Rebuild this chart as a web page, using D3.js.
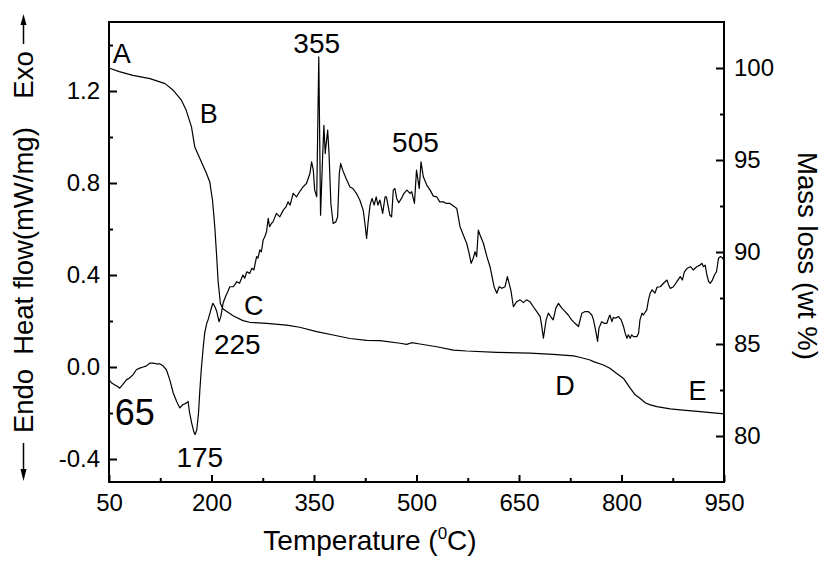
<!DOCTYPE html>
<html>
<head>
<meta charset="utf-8">
<script src="https://cdn.jsdelivr.net/npm/d3@7"></script>
<style>
    body { margin: 0; background: #fff; }
    text { font-family: "Liberation Sans", Arial, sans-serif; fill: #000; }
</style>
</head>
<body>
<div id="chart"></div>
<script>

    // DSC heat flow (mW/mg): [temperature, value]
    var dscCurve = [
        [50, -0.056], [54, -0.07], [58, -0.077], [62.7, -0.085], [65.7, -0.092], [70, -0.077],
        [75.5, -0.056], [80, -0.048], [85, -0.034], [90, -0.012], [95, -0.005], [100, 0.0],
        [105, 0.005], [110, 0.017], [114.5, 0.017], [119, 0.014], [124, 0.014], [129, 0.005],
        [134, -0.012], [139, -0.056], [144, -0.113], [149, -0.15], [153.6, -0.178], [158, -0.164],
        [163, -0.157], [165.7, -0.15], [168, -0.2], [171, -0.244], [174, -0.28], [176, -0.294],
        [178.5, -0.273], [181, -0.2], [183, -0.099], [185, -0.012], [188, 0.089], [190, 0.147],
        [193, 0.19], [195, 0.205], [199, 0.248], [202, 0.277], [205, 0.262], [207.7, 0.241],
        [211, 0.197], [213.6, 0.219], [217, 0.278], [221, 0.31], [224, 0.328], [226.8, 0.349],
        [231.6, 0.349], [234, 0.357], [237, 0.371], [241, 0.364], [246, 0.4], [248.6, 0.386],
        [251.7, 0.414], [256, 0.407], [259, 0.429], [262, 0.422], [266, 0.48], [268, 0.473],
        [270.7, 0.509], [273, 0.501], [275.6, 0.552], [278, 0.566], [280.5, 0.588], [283, 0.646],
        [285, 0.61], [288, 0.625], [290, 0.631], [295, 0.668], [300, 0.653], [305, 0.682],
        [309, 0.696], [312, 0.718], [315, 0.704], [319.5, 0.755], [324.5, 0.74], [329, 0.762],
        [334, 0.783], [339, 0.798], [344, 0.841], [346.5, 0.892], [349, 0.856], [351, 0.769],
        [354, 0.74], [357, 1.348], [359.6, 0.66], [362.6, 0.914], [364.5, 1.051], [366.4, 0.928],
        [370, 1.03], [372, 0.928], [374.7, 0.711], [378, 0.624], [382, 0.631], [384.6, 0.653],
        [387, 0.841], [389, 0.885], [392, 0.856], [397, 0.82], [402.6, 0.783], [407, 0.776],
        [412, 0.755], [417, 0.726], [422, 0.682], [424.5, 0.624], [427, 0.559], [429, 0.624],
        [432, 0.704], [435, 0.733], [438, 0.704], [441, 0.74], [443.6, 0.704], [446.5, 0.726],
        [450.5, 0.668], [454, 0.74], [456, 0.74], [461, 0.66], [463.6, 0.653], [466, 0.769],
        [468.5, 0.776], [471, 0.733], [474, 0.714], [478, 0.733], [481.7, 0.755], [486, 0.769],
        [490.5, 0.755], [493, 0.762], [497, 0.711], [500, 0.856], [504, 0.776], [506.6, 0.892],
        [510, 0.827], [515, 0.791], [520, 0.769], [524.6, 0.743], [529.6, 0.74], [534, 0.718],
        [539, 0.718], [544, 0.711], [549, 0.711], [554, 0.7], [559, 0.689], [563.7, 0.61],
        [568.5, 0.574], [573.5, 0.537], [577, 0.494], [580, 0.451], [583, 0.473], [585.7, 0.501],
        [588, 0.48], [590.5, 0.595], [593, 0.574], [598, 0.537], [603, 0.48], [607.6, 0.436],
        [610.6, 0.393], [613.5, 0.349], [617.5, 0.321], [621, 0.349], [625, 0.342], [629.6, 0.349],
        [633, 0.393], [635.5, 0.364], [638, 0.335], [641.8, 0.262], [646.7, 0.284], [651.6, 0.292],
        [656.4, 0.28], [661, 0.292], [666, 0.284], [671, 0.262], [676, 0.241], [681, 0.219],
        [683, 0.183], [685.7, 0.125], [689.7, 0.205], [693, 0.234], [698, 0.212], [700, 0.205],
        [704, 0.256], [707.7, 0.277], [712.7, 0.256], [717.5, 0.241], [722, 0.226], [727, 0.205],
        [732, 0.19], [737, 0.176], [742, 0.234], [746.8, 0.241], [751.6, 0.241], [756.6, 0.226],
        [759, 0.205], [762.5, 0.154], [765, 0.111], [767, 0.169], [771, 0.197], [774.6, 0.19],
        [778.6, 0.19], [781, 0.212], [783, 0.226], [786, 0.197], [788, 0.216], [790.7, 0.212],
        [795.6, 0.219], [799.5, 0.205], [803, 0.176], [805.4, 0.147], [808, 0.125], [810, 0.14],
        [812.7, 0.125], [815, 0.14], [817.5, 0.132], [822.5, 0.132], [825, 0.147], [827, 0.205],
        [830, 0.234], [832, 0.226], [837, 0.248], [839.5, 0.292], [842, 0.321], [844.5, 0.335],
        [847, 0.328], [849, 0.321], [852, 0.347], [856.7, 0.349], [861.5, 0.364], [866.5, 0.378],
        [869, 0.357], [871.3, 0.342], [876, 0.349], [881, 0.371], [886, 0.393], [889, 0.378],
        [892, 0.414], [896, 0.429], [901, 0.436], [905, 0.422], [910, 0.436], [915, 0.443],
        [917.7, 0.451], [920, 0.436], [922.5, 0.443], [925, 0.4], [927.6, 0.371], [930, 0.364],
        [933, 0.378], [936, 0.4], [939, 0.414], [942, 0.473], [944.5, 0.48], [947, 0.477],
        [950, 0.465]];

    // TG mass (wt %): [temperature, value]
    var tgCurve = [
        [50, 100.0], [65, 99.8], [85, 99.6], [110, 99.42], [132, 99.15], [144, 98.79],
        [156, 98.25], [163, 97.7], [170.7, 96.8], [175.5, 95.71], [183, 95.08], [192.7, 94.27],
        [197.5, 93.8], [201.5, 92.8], [204.8, 91.37], [207.3, 89.92], [209.7, 88.4], [213, 87.2],
        [217, 86.9], [231.6, 86.54], [246, 86.27], [256, 86.18], [280.5, 86.12], [310, 86.03],
        [329, 85.91], [354, 85.67], [378, 85.49], [402.6, 85.3], [427, 85.2], [446.5, 85.18],
        [476, 85.04], [485.6, 84.98], [493, 85.07], [505, 85.0], [529.6, 84.85], [554, 84.67],
        [573.5, 84.62], [617.5, 84.55], [666, 84.5], [700, 84.44], [729.7, 84.35], [739, 84.28],
        [754, 84.13], [759, 84.04], [773.6, 83.86], [783, 83.68], [793, 83.4], [803, 83.13],
        [812.7, 82.6], [820, 82.24], [827, 82.05], [834.7, 81.81], [842, 81.69], [851.8, 81.6],
        [871.3, 81.47], [886, 81.42], [915, 81.33], [950, 81.2]];

    var xTicks = [50, 200, 350, 500, 650, 800, 950];
    var xMinor = [125, 275, 425, 575, 725, 875];
    var leftTicks = [-0.4, 0, 0.4, 0.8, 1.2];
    var leftLabels = ["-0.4", "0.0", "0.4", "0.8", "1.2"];
    var leftMinor = [-0.2, 0.2, 0.6, 1.0, 1.4];
    var rightTicks = [80, 85, 90, 95, 100];
    var rightMinor = [82.5, 87.5, 92.5, 97.5];

    // annotations, placed in (temperature, heat flow) units
    var notes = [
        {text: "A", t: 55.6, v: 1.32, size: 27, anchor: "start"},
        {text: "B", t: 182.8, v: 1.06, size: 27, anchor: "start"},
        {text: "355", t: 354, v: 1.367, size: 28, anchor: "middle"},
        {text: "505", t: 498.5, v: 0.935, size: 28, anchor: "middle"},
        {text: "C", t: 247.7, v: 0.226, size: 27, anchor: "start"},
        {text: "225", t: 237.8, v: 0.057, size: 28, anchor: "middle"},
        {text: "175", t: 182.9, v: -0.435, size: 28, anchor: "middle"},
        {text: "65", t: 58.3, v: -0.251, size: 36, anchor: "start"},
        {text: "D", t: 703, v: -0.121, size: 27, anchor: "start"},
        {text: "E", t: 898, v: -0.145, size: 27, anchor: "start"}];

    var margin = {top: 22, right: 99, bottom: 79, left: 109},
        width = 823 - margin.left - margin.right,
        height = 561 - margin.top - margin.bottom;

    var svg = d3.select("#chart")
        .append("svg")
        .attr("width", 823)
        .attr("height", 561);

    var g = svg.append("g")
        .attr("transform", "translate(" + margin.left + "," + margin.top + ")");

    var x = d3.scaleLinear().domain([50, 950]).range([0, width]);
    var yL = d3.scaleLinear().domain([-0.5, 1.5]).range([height, 0]);
    var yR = d3.scaleLinear().domain([77.5, 102.5]).range([height, 0]);

    // major and minor ticks, pointing inward
    g.append("g")
        .attr("class", "axis")
        .attr("transform", "translate(0," + height + ")")
        .call(d3.axisBottom(x).tickValues(xTicks).tickSize(-7).tickPadding(12)
            .tickFormat(function (d) { return String(d); }));
    g.append("g")
        .attr("class", "axis")
        .attr("transform", "translate(0," + height + ")")
        .call(d3.axisBottom(x).tickValues(xMinor).tickSize(-4).tickFormat(""));

    g.append("g")
        .attr("class", "axis")
        .call(d3.axisLeft(yL).tickValues(leftTicks).tickSize(-8).tickPadding(9)
            .tickFormat(function (d, i) { return leftLabels[i]; }));
    g.append("g")
        .attr("class", "axis")
        .call(d3.axisLeft(yL).tickValues(leftMinor).tickSize(-4).tickFormat(""));

    g.append("g")
        .attr("class", "axis")
        .attr("transform", "translate(" + width + ",0)")
        .call(d3.axisRight(yR).tickValues(rightTicks).tickSize(-8).tickPadding(10));
    g.append("g")
        .attr("class", "axis")
        .attr("transform", "translate(" + width + ",0)")
        .call(d3.axisRight(yR).tickValues(rightMinor).tickSize(-4).tickFormat(""));

    g.selectAll(".axis .domain").remove();
    g.selectAll(".axis line").attr("stroke", "#000").attr("stroke-width", 2);
    g.selectAll(".axis text")
        .style("font-size", "24px")
        .style("font-family", "'Liberation Sans', Arial, sans-serif")
        .attr("fill", "#000");

    // frame
    g.append("rect")
        .attr("width", width)
        .attr("height", height)
        .attr("fill", "none")
        .attr("stroke", "#000")
        .attr("stroke-width", 2);

    var dscLine = d3.line()
        .x(function (d) { return x(d[0]); })
        .y(function (d) { return yL(d[1]); });

    var tgLine = d3.line()
        .x(function (d) { return x(d[0]); })
        .y(function (d) { return yR(d[1]); });

    g.append("path")
        .datum(dscCurve)
        .attr("d", dscLine)
        .attr("fill", "none")
        .attr("stroke", "#000")
        .attr("stroke-width", 1.2)
        .attr("stroke-linejoin", "round");

    g.append("path")
        .datum(tgCurve)
        .attr("d", tgLine)
        .attr("fill", "none")
        .attr("stroke", "#000")
        .attr("stroke-width", 1.2)
        .attr("stroke-linejoin", "round");

    g.selectAll(".note")
        .data(notes)
        .enter().append("text")
        .attr("class", "note")
        .attr("x", function (d) { return x(d.t); })
        .attr("y", function (d) { return yL(d.v); })
        .attr("text-anchor", function (d) { return d.anchor; })
        .style("font-size", function (d) { return d.size + "px"; })
        .text(function (d) { return d.text; });

    // x title with superscript 0
    var xt = svg.append("text")
        .attr("x", 370)
        .attr("y", 550)
        .attr("text-anchor", "middle")
        .style("font-size", "28px");
    xt.append("tspan").text("Temperature (");
    xt.append("tspan").attr("dy", -11).style("font-size", "17px").text("0");
    xt.append("tspan").attr("dy", 11).text("C)");

    // left title in three pieces plus arrows
    var leftParts = [
        {text: "Endo", y: 401},
        {text: "Heat flow(mW/mg)", y: 241},
        {text: "Exo", y: 75}];
    svg.selectAll(".ltitle")
        .data(leftParts)
        .enter().append("text")
        .attr("class", "ltitle")
        .attr("transform", function (d) { return "translate(33," + d.y + ") rotate(-90)"; })
        .attr("text-anchor", "middle")
        .style("font-size", "27.5px")
        .text(function (d) { return d.text; });

    svg.append("line").attr("x1", 23.5).attr("x2", 23.5).attr("y1", 44).attr("y2", 24)
        .attr("stroke", "#000").attr("stroke-width", 1.5);
    svg.append("path").attr("d", "M23.5,14L20.5,25L26.5,25Z").attr("fill", "#000");
    svg.append("line").attr("x1", 23.5).attr("x2", 23.5).attr("y1", 443).attr("y2", 470)
        .attr("stroke", "#000").attr("stroke-width", 1.5);
    svg.append("path").attr("d", "M23.5,481L20.5,469L26.5,469Z").attr("fill", "#000");

    svg.append("text")
        .attr("transform", "translate(798,256) rotate(90)")
        .attr("text-anchor", "middle")
        .style("font-size", "27.5px")
        .text("Mass loss (wt %)");

</script>
</body>
</html>
